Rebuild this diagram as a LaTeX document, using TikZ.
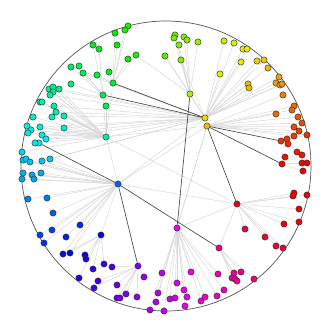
\documentclass[tikz,border=0pt]{standalone}
\usepackage{xcolor}
\usepackage{tikz}
\usetikzlibrary{backgrounds}
\definecolor{RGRing}{HTML}{555555}
\definecolor{RGLink}{HTML}{D6D6D6}
\definecolor{RGTrunk}{HTML}{444444}
\definecolor{RGRim}{HTML}{2E2E2E}

\tikzset{
  leafdot/.style={circle,draw=RGRim,line width=0.35pt,inner sep=0pt,minimum size=5.4pt},
  lightlink/.style={RGLink,line width=0.4pt},
  trunklink/.style={RGTrunk,line width=0.55pt},
  ringline/.style={RGRing,line width=0.6pt}
}
% dot coloured by its angle round the ring
\newcommand\placedot[3]{%
  \pgfmathsetmacro\dotang{mod(atan2(166-#3,#2-166)+360,360)}%
  \pgfmathsetmacro\dothue{min(\dotang*1.07,359)/360}%
  \convertcolorspec{hsb}{\dothue,1,0.93}{rgb}\dotrgb
  \definecolor{dotfill}{rgb}{\dotrgb}%
  \node[leafdot,fill=dotfill] (#1) at (#2,#3) {};}

\begin{document}
\begin{tikzpicture}[x=0.03cm,y=-0.03cm]
\path[use as bounding box] (0,0) rectangle (332,332);
\draw[ringline] (166,166) circle [radius=145];

% inner nodes
\placedot{hA}{205}{118}
\placedot{hB}{207}{126}
\placedot{hC}{190}{94}
\placedot{hD}{106}{137}
\placedot{hE}{118}{184}
\placedot{hF}{177}{228}
\placedot{hG}{237}{204}
\placedot{hH}{219}{248}
\placedot{m0}{113}{83}
\placedot{n0}{103}{95}
\placedot{w0}{106}{106}
\placedot{k0}{39}{143}
\placedot{q0}{101}{235}
\placedot{r0}{138}{266}
\placedot{s0}{282}{164}
\placedot{t0}{281}{141}

% leaves
\foreach \n/\x/\y in {y1/224/41, y2/234/43, y3/243/49, y4/247/49, y5/241/62,
  y6/220/74, y7/257/61, y8/264/60, y9/268/68, y10/279/77, y11/276/83,
  y12/280/85, y13/282/84, y14/248/84, y15/249/88, y16/283/95, y17/294/106,
  y18/292/110, y19/298/117, y20/276/114, y21/302/123, y22/294/127,
  y23/299/131, y24/294/136, y25/307/135}
  {\placedot{\n}{\x}{\y}}
\foreach \n/\x/\y in {g1/198/42, g2/184/37, g3/187/40, g4/175/35, g5/174/38,
  g6/179/45, g7/165/56, g8/181/60}
  {\placedot{\n}{\x}{\y}}
\foreach \n/\x/\y in {m1/128/26, m2/125/30, m3/115/33, m4/117/45, m5/136/55,
  m6/128/59, m7/109/72, m8/97/75, n1/93/45, n2/99/49, n3/71/67, n4/79/66,
  n5/83/73, n6/71/84}
  {\placedot{\n}{\x}{\y}}
\foreach \n/\x/\y in {c1/49/89, c2/53/87, c3/59/89, c4/53/92, c5/50/95,
  c6/40/102, c7/42/102, c8/54/106, c9/56/112, c10/52/117, c11/64/116,
  c12/33/117, c13/27/126, c14/40/127, c15/31/130, c16/64/128, c17/42/135,
  c18/46/139, c19/35/143, c20/22/152, c21/28/133}
  {\placedot{\n}{\x}{\y}}
\foreach \n/\x/\y in {b1/23/160, b2/26/159, b3/30/162, b4/42/161, b5/50/159,
  b6/23/173, b7/32/175, b8/41/173, b9/22/179, b10/34/179, b11/28/199,
  b12/47/198, b13/53/213, b14/80/225, b15/52/230, b16/40/235, b17/66/237,
  b18/44/243}
  {\placedot{\n}{\x}{\y}}
\foreach \n/\x/\y in {q1/63/254, q2/70/253, q3/85/255, q4/86/259, q5/93/269,
  q6/104/264, q7/79/278, r1/144/277, r2/112/267, r3/117/285, r4/126/294,
  r5/117/298, r6/120/298, r7/137/297, r8/98/281, r9/94/288}
  {\placedot{\n}{\x}{\y}}
\foreach \n/\x/\y in {v1/162/273, v2/191/272, v3/218/274, v4/177/283,
  v5/184/290, v6/158/293, v7/187/297, v8/170/299, v9/175/298, v10/156/302,
  v11/150/310, v12/164/311, v13/185/306, v14/201/301, v15/205/297,
  v16/217/296, v17/224/290}
  {\placedot{\n}{\x}{\y}}
\foreach \n/\x/\y in {p1/234/273, p2/241/272, p3/232/278, p4/235/279,
  p5/237/281, p6/254/279, e1/245/229, e2/265/237, e3/276/246, e4/283/248,
  e5/284/224, e6/299/222, e7/299/209, e8/294/193, e9/293/196, e10/307/195}
  {\placedot{\n}{\x}{\y}}
\foreach \n/\x/\y in {s1/297/152, s2/302/155, s3/285/157, s4/302/163,
  s5/307/163, s6/303/171, t1/287/139, t2/288/144}
  {\placedot{\n}{\x}{\y}}

\begin{pgfonlayer}{background}
% light links
\foreach \i in {1,...,15} \draw[lightlink] (hA) -- (y\i);
\foreach \i in {16,...,25} \draw[lightlink] (hB) -- (y\i);
\foreach \i in {1,...,8} \draw[lightlink] (hC) -- (g\i);
\foreach \i in {1,...,8} \draw[lightlink] (m0) -- (m\i);
\foreach \i in {1,...,6} \draw[lightlink] (n0) -- (n\i);
\foreach \i in {1,...,21} \draw[lightlink] (hD) -- (c\i);
\foreach \i in {1,...,18} \draw[lightlink] (hE) -- (b\i);
\foreach \i in {1,...,7} \draw[lightlink] (q0) -- (q\i);
\foreach \i in {1,...,9} \draw[lightlink] (r0) -- (r\i);
\foreach \i in {1,...,17} \draw[lightlink] (hF) -- (v\i);
\foreach \i in {1,...,6} \draw[lightlink] (hH) -- (p\i);
\foreach \i in {1,...,10} \draw[lightlink] (hG) -- (e\i);
\foreach \i in {1,...,6} \draw[lightlink] (s0) -- (s\i);
\foreach \a/\b in {t0/t1, t0/t2, t0/y24, t0/y25, k0/c19, hD/w0, hD/m0,
  hD/n0, w0/n0, hE/q0, hE/q1, hE/q2, hG/hF, hG/hH, hA/hC, hA/hD, hB/hD,
  hA/hE, hB/hE, hD/hE, hE/hG, hF/hB, hA/c1, hA/c3, hA/c5, hA/c8, hA/c9,
  hA/c11, hA/c14, hA/c16, hA/c17, hA/c18, hA/b4, hA/b5, hA/n3, hA/n5,
  hB/hF, hG/hD, hC/m5, hA/g7, hA/g8}
  \draw[lightlink] (\a) -- (\b);
% dark links
\foreach \a/\b in {m0/hA, n0/hA, hB/t0, hB/s0, hB/hG, hC/hF, hE/k0, hE/hH,
  hE/r0}
  \draw[trunklink] (\a) -- (\b);
\end{pgfonlayer}
\end{tikzpicture}
\end{document}
